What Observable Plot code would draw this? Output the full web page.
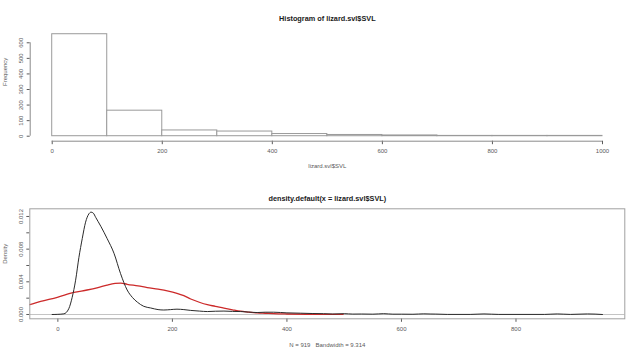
<!DOCTYPE html>
<html><head><meta charset="utf-8">
<script src="https://cdn.jsdelivr.net/npm/d3@7"></script>
<script src="https://cdn.jsdelivr.net/npm/@observablehq/plot@0.6"></script>
<style>
html,body{margin:0;padding:0;background:#fff;}
#chart{width:640px;height:356px;overflow:hidden;}
#chart svg{display:block;}
#chart text{white-space:pre;}
</style></head><body><div id="chart"></div>
<script>
// ---- Histogram data ----
const histTitle = "Histogram of lizard.svl$SVL";
const histXLabel = "lizard.svl$SVL";
const histYLabel = "Frequency";
const binStarts = [0, 100, 200, 300, 400, 500, 600, 700, 800, 900];
const binEnds = [100, 200, 300, 400, 500, 600, 700, 800, 900, 1000];
const binCounts = [655, 164, 37, 30, 14, 8, 5, 2, 2, 2];
const histXTicks = [0, 200, 400, 600, 800, 1000];
const histYTicks = [0, 100, 200, 300, 400, 500, 600];

// ---- Density data ----
const densTitle = "density.default(x = lizard.svl$SVL)";
const densXLabel = "N = 919   Bandwidth = 9.314";
const densYLabel = "Density";
const blackX = [-10, 0, 10.5, 19, 25, 31, 36.8, 42.6, 48.4, 54, 58, 62, 66, 75, 86, 98, 109.5, 121, 130, 139, 150, 162, 175, 185, 197, 208, 220, 232, 247, 261, 275, 290, 305, 319, 333, 348, 362, 377, 400, 424, 444, 464, 480, 500, 515, 530, 550, 569, 585, 600, 620, 639, 650, 660, 680, 720, 744, 770, 850, 872, 895, 925, 951];
const blackY = [0, 0.00002, 0.00008, 0.0007, 0.0021, 0.0042, 0.0070, 0.0093, 0.0113, 0.0123, 0.01253, 0.0124, 0.0119, 0.0108, 0.0093, 0.0075, 0.0050, 0.0030, 0.0021, 0.0015, 0.0010, 0.0008, 0.0006, 0.00055, 0.0006, 0.00065, 0.0006, 0.0005, 0.00042, 0.00036, 0.0004, 0.00042, 0.00038, 0.00036, 0.0003, 0.00024, 0.00028, 0.00028, 0.0002, 0.00016, 0.00012, 0.0001, 0.00006, 0.0001, 0.00005, 0.00006, 0.00004, 0.0001, 0.00004, 0.00004, 0.00003, 0.00008, 0.00006, 0.00005, 0.00001, 0.00001, 0.00007, 0.00001, 0.00001, 0.00007, 0.00001, 0.00007, 0];
const redX = [-60, -49, -30, -1, 28, 51, 70, 86, 100, 110, 121, 140, 156, 175, 191, 208, 220, 232, 247, 261, 275, 290, 305, 319, 333, 348, 362, 377, 400, 435, 470, 498];
const redY = [0.0011, 0.00122, 0.0016, 0.0021, 0.0027, 0.0030, 0.0033, 0.0036, 0.0038, 0.00385, 0.0037, 0.0035, 0.0033, 0.0031, 0.0029, 0.0026, 0.0023, 0.0019, 0.0015, 0.0012, 0.0010, 0.00077, 0.00057, 0.0004, 0.0003, 0.0002, 0.00015, 0.0001, 0.00006, 0.00003, 0.00002, 0.00001];
const densXTicks = [0, 200, 400, 600, 800];
const densYTicks = [0, 0.002, 0.004, 0.006, 0.008, 0.010, 0.012];
const densYLabelled = [0, 0.004, 0.008, 0.012];

const font = "'Liberation Sans', Arial, sans-serif";
const axisColor = "#8a8a8a";
const textColor = "#5a5a5a";

// ---- Top: histogram ----
const histData = binStarts.map((s, i) => ({x1: s, x2: binEnds[i], y: binCounts[i]}));
const histXDomain = [-40, 1040];
const histYDomain = [-32, 677];
const topPlot = Plot.plot({
  width: 640, height: 178,
  marginTop: 30.3, marginBottom: 37.3, marginLeft: 29.7, marginRight: 16,
  style: {fontFamily: font, fontSize: "6px", color: textColor, background: "#fff", overflow: "visible"},
  x: {domain: histXDomain, ticks: histXTicks, tickSize: 3.5, tickPadding: 4.5, label: null, tickFormat: d => String(d)},
  y: {domain: histYDomain, ticks: histYTicks, tickSize: 3, tickPadding: 4, tickRotate: -90, label: null, tickFormat: d => String(d)},
  marks: [
    Plot.rectY(histData, {x1: "x1", x2: "x2", y1: 0, y2: "y", fill: "#fff", stroke: "#9a9a9a", strokeWidth: 1}),
    Plot.ruleY([histYDomain[0]], {x1: histXTicks[0], x2: histXTicks[histXTicks.length - 1], stroke: axisColor}),
    Plot.ruleX([histXDomain[0]], {y1: histYTicks[0], y2: histYTicks[histYTicks.length - 1], stroke: axisColor}),
    Plot.text([histTitle], {text: d => d, frameAnchor: "top", dy: -15.3, fontWeight: "bold", fontSize: 7.3, fill: "#1a1a1a"}),
    Plot.text([histXLabel], {text: d => d, frameAnchor: "bottom", dy: 26.3, fontSize: 6, fill: textColor}),
    Plot.text([histYLabel], {text: d => d, frameAnchor: "left", dx: -24.7, rotate: -90, fontSize: 6, fill: textColor})
  ]
});

// ---- Bottom: density ----
const blackData = blackX.map((x, i) => ({x, y: blackY[i]}));
const redData = redX.map((x, i) => ({x, y: redY[i]}));
const botPlot = Plot.plot({
  width: 640, height: 178,
  marginTop: 30.3, marginBottom: 37.7, marginLeft: 29.3, marginRight: 15.7,
  style: {fontFamily: font, fontSize: "6px", color: textColor, background: "#fff", overflow: "visible"},
  x: {domain: [-49, 990], ticks: densXTicks, tickSize: 3.5, tickPadding: 4, label: null, tickFormat: d => String(d)},
  y: {domain: [-0.000527, 0.01294], ticks: densYTicks, tickSize: 3, tickPadding: 4, tickRotate: -90, label: null,
      tickFormat: d => densYLabelled.includes(d) ? d.toFixed(3) : ""},
  marks: [
    Plot.ruleY([0], {stroke: "#c4c4c4", strokeWidth: 1}),
    Plot.line(redData, {x: "x", y: "y", stroke: "#cc2a2a", strokeWidth: 1.3, curve: "monotone-x", clip: true}),
    Plot.line(blackData, {x: "x", y: "y", stroke: "#2a2a2a", strokeWidth: 1, curve: "monotone-x", clip: true}),
    Plot.frame({stroke: "#a0a0a0"}),
    Plot.text([densTitle], {text: d => d, frameAnchor: "top", dy: -13.3, fontWeight: "bold", fontSize: 7.3, fill: "#1a1a1a"}),
    Plot.text([densXLabel], {text: d => d, frameAnchor: "bottom", dy: 27.7, fontSize: 6, fill: textColor}),
    Plot.text([densYLabel], {text: d => d, frameAnchor: "left", dx: -24.3, rotate: -90, fontSize: 6, fill: textColor})
  ]
});

const chart = document.getElementById("chart");
chart.appendChild(topPlot);
chart.appendChild(botPlot);
</script></body></html>
